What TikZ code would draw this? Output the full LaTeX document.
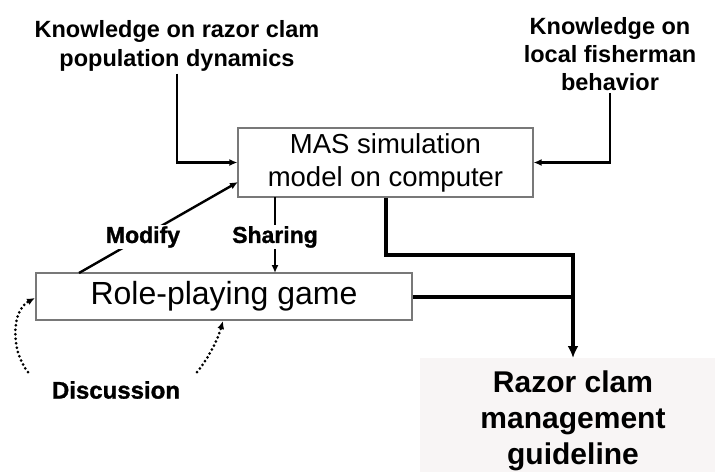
\documentclass[tikz,border=0pt]{standalone}
\usepackage{fontspec}
\setmainfont{Liberation Sans}
\newfontfamily\heavy{Liberation Sans Bold}[FakeBold=1.2]
\usetikzlibrary{arrows.meta}
\definecolor{boxline}{RGB}{120,120,120}
\definecolor{guidefill}{RGB}{248,245,245}
\tikzset{
  klabel/.style={font=\bfseries\fontsize{23.5}{29}\selectfont, align=center, inner sep=2pt},
  boxnode/.style={draw=boxline, line width=1.2pt, fill=white, align=center, inner sep=0pt},
  arr/.style={line width=2.4pt, -{Latex[length=8pt,width=7pt]}},
  thickarr/.style={line width=4pt, -{Latex[length=12pt,width=11pt]}},
  dotarr/.style={line width=3pt, line cap=round, dash pattern=on 0pt off 4.5pt, -{Latex[length=8pt,width=7pt]}},
  tag/.style={font=\heavy\fontsize{23}{27}\selectfont, fill=white, inner sep=1pt}
}
\begin{document}
\begin{tikzpicture}[x=1pt,y=-1pt]
\useasboundingbox (0,0) rectangle (715,472);
\fill[white] (0,0) rectangle (715,472);
% guideline background
\fill[guidefill] (420,358) rectangle (715,472);
\node[font=\bfseries\fontsize{30}{36}\selectfont, align=center] (guide) at (573,421) {Razor clam\\management\\guideline};
\coordinate (gtop) at (573,358);

% top labels
\node[klabel] (k1) at (177,46) {Knowledge on razor clam\\population dynamics};
\node[klabel, font=\bfseries\fontsize{23.5}{28}\selectfont] (k2) at (610,54) {Knowledge on\\local fisherman\\behavior};

% boxes
\node[boxnode, minimum width=295pt, minimum height=69pt, font=\fontsize{27.5}{32}\selectfont] (mas) at (385.5,162.5) {MAS simulation\\[1pt]model on computer};
\node[boxnode, minimum width=376pt, minimum height=47pt, font=\fontsize{32}{36}\selectfont] (rpg) at (224,296.5) {Role-playing game};

% knowledge arrows
\draw[arr] (k1.south) |- (mas.west);
\draw[arr] (k2.south) |- (mas.east);

% modify
\coordinate (m0) at (79,273);
\coordinate (m1) at (238,182);
\draw[arr] (m0) -- (m1);
\node[tag] (modify) at (143,237) {Modify};

% sharing
\coordinate (s0) at (275,197);
\coordinate (s1) at (275,273);
\draw[arr] (s0) -- (s1);
\node[tag] (sharing) at (275,237) {Sharing};

% thick connectors
\coordinate (j) at (573,255);
\draw[line width=4pt] (rpg.east) -- (rpg.east -| j);
\draw[thickarr] (mas.south) |- (j) -- (gtop);

% discussion
\node[tag, fill=none, font=\heavy\fontsize{24}{28}\selectfont] (disc) at (116,390) {Discussion};
\coordinate (d0) at (28,372);
\coordinate (d1) at (35,298);
\coordinate (e0) at (197,372);
\coordinate (e1) at (223,321);
\draw[dotarr] (d0) .. controls (10,350) and (12,310) .. (d1);
\draw[dotarr] (e0) .. controls (207,360) and (217,342) .. (e1);
\end{tikzpicture}
\end{document}
